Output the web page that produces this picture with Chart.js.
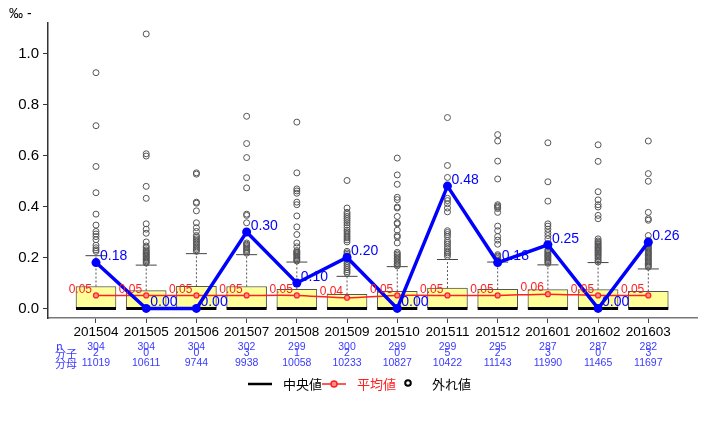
<!DOCTYPE html>
<html>
<head>
<meta charset="utf-8">
<script src="https://cdn.jsdelivr.net/npm/chart.js@4"></script>
<style>
  html, body { margin: 0; padding: 0; background: #fff; }
  #wrap { width: 720px; height: 426px; }
</style>
</head>
<body>
<div id="wrap"><canvas id="boxChart" width="720" height="426"></canvas></div>
<script>
// months on the x axis
const months = ['201504', '201505', '201506', '201507', '201508', '201509',
                '201510', '201511', '201512', '201601', '201602', '201603'];

// box plot stats (per mille)
const q1Vals     = [0, 0, 0, 0, 0, 0, 0, 0, 0, 0, 0, 0];
const medianVals = [0, 0, 0, 0, 0, 0, 0, 0, 0, 0, 0, 0];
const q3Vals     = [0.086, 0.070, 0.087, 0.086, 0.075, 0.055, 0.067, 0.080, 0.075, 0.074, 0.074, 0.067];
const whiskerHi  = [0.207, 0.170, 0.215, 0.211, 0.182, 0.126, 0.164, 0.192, 0.182, 0.171, 0.180, 0.155];
const meanVals   = [0.051, 0.051, 0.051, 0.051, 0.051, 0.042, 0.051, 0.051, 0.051, 0.056, 0.051, 0.051];

// monthly rate = numerator / denominator (per mille)
const rateVals = [0.18, 0.00, 0.00, 0.30, 0.10, 0.20, 0.00, 0.48, 0.18, 0.25, 0.00, 0.26];

// table under the axis
const nVals   = [304, 304, 304, 302, 299, 300, 299, 299, 295, 287, 287, 282];
const numVals = [2, 0, 0, 3, 1, 2, 0, 5, 2, 3, 0, 3];
const denVals = [11019, 10611, 9744, 9938, 10058, 10233, 10827, 10422, 11143, 11990, 11465, 11697];

const yTicks = [0, 0.2, 0.4, 0.6, 0.8, 1.0];

// outliers per month
const outliers = [
  [0.925, 0.717, 0.557, 0.454, 0.370, 0.327, 0.302, 0.292, 0.282, 0.270, 0.248, 0.238, 0.230, 0.224],
  [1.077, 0.607, 0.598, 0.479, 0.432, 0.332, 0.311, 0.295, 0.261, 0.245, 0.238, 0.230, 0.225, 0.220, 0.215, 0.211, 0.206, 0.202, 0.197, 0.192, 0.187, 0.182, 0.178],
  [0.532, 0.527, 0.417, 0.413, 0.383, 0.336, 0.317, 0.302, 0.286, 0.280, 0.273, 0.267, 0.261, 0.255, 0.249, 0.242, 0.236, 0.230, 0.224],
  [0.754, 0.647, 0.592, 0.513, 0.473, 0.370, 0.365, 0.336, 0.257, 0.252, 0.248, 0.243, 0.238, 0.232, 0.227, 0.222, 0.217],
  [0.731, 0.532, 0.469, 0.461, 0.452, 0.417, 0.407, 0.363, 0.320, 0.290, 0.257, 0.242, 0.227, 0.222, 0.218, 0.214, 0.210, 0.205, 0.200, 0.195, 0.190, 0.186],
  [0.502, 0.394, 0.377, 0.369, 0.361, 0.353, 0.345, 0.336, 0.327, 0.317, 0.307, 0.300, 0.292, 0.284, 0.277, 0.269, 0.261, 0.224, 0.218, 0.212, 0.206, 0.200, 0.192, 0.184, 0.176, 0.168, 0.160, 0.152, 0.144, 0.138],
  [0.590, 0.524, 0.487, 0.436, 0.427, 0.398, 0.394, 0.361, 0.336, 0.332, 0.307, 0.286, 0.280, 0.257, 0.220, 0.214, 0.208, 0.202, 0.196, 0.190, 0.184, 0.178, 0.172, 0.167],
  [0.749, 0.561, 0.514, 0.432, 0.423, 0.411, 0.394, 0.379, 0.305, 0.298, 0.290, 0.282, 0.267, 0.259, 0.252, 0.242, 0.234, 0.224, 0.218, 0.211, 0.204],
  [0.682, 0.657, 0.578, 0.508, 0.407, 0.402, 0.397, 0.392, 0.377, 0.323, 0.305, 0.282, 0.268, 0.252, 0.211, 0.206, 0.202, 0.196, 0.190],
  [0.650, 0.497, 0.421, 0.332, 0.323, 0.311, 0.298, 0.286, 0.273, 0.230, 0.225, 0.220, 0.215, 0.210, 0.206, 0.202, 0.197, 0.192, 0.187, 0.182, 0.177],
  [0.642, 0.577, 0.458, 0.426, 0.407, 0.398, 0.365, 0.352, 0.273, 0.265, 0.260, 0.255, 0.250, 0.245, 0.240, 0.236, 0.231, 0.227, 0.222, 0.217, 0.212, 0.207, 0.201, 0.195, 0.188, 0.182],
  [0.657, 0.529, 0.499, 0.377, 0.352, 0.346, 0.286, 0.267, 0.262, 0.257, 0.252, 0.247, 0.242, 0.237, 0.232, 0.227, 0.222, 0.217, 0.212, 0.207, 0.202, 0.197, 0.192, 0.187, 0.182, 0.177, 0.172, 0.167, 0.162]
];

const BLUE = '#0000ff';
const RED = '#ff2020';
const TXT_BLUE = '#3a3aff';
const CJK = '"Noto Sans CJK JP", "Liberation Sans", sans-serif';
const SANS = '"Liberation Sans", sans-serif';

const xs = months.map((m, i) => i + 1);

const boxData = xs.map((x, i) => ({ x: x, y: [q1Vals[i], q3Vals[i]] }));
const medData = xs.map((x, i) => ({ x: x, y: medianVals[i] }));
const capData = xs.map((x, i) => ({ x: x, y: whiskerHi[i] }));
const whiskData = [];
xs.forEach((x, i) => {
    whiskData.push({ x: x, y: q3Vals[i] }, { x: x, y: whiskerHi[i] }, { x: x, y: null });
});
const outData = [];
outliers.forEach((list, i) => list.forEach(v => outData.push({ x: i + 1, y: v })));
const meanData = xs.map((x, i) => ({ x: x, y: meanVals[i] }));
const rateData = xs.map((x, i) => ({ x: x, y: rateVals[i] }));

// value labels + table + legend
const extrasPlugin = {
    id: 'extras',
    afterDatasetsDraw(chart) {
        const ctx = chart.ctx;
        ctx.save();
        ctx.textBaseline = 'middle';

        // mean labels (red, left of point)
        const meanMeta = chart.getDatasetMeta(1);
        ctx.fillStyle = RED;
        ctx.font = '12px ' + SANS;
        ctx.textAlign = 'right';
        meanMeta.data.forEach((pt, i) => {
            ctx.fillText(meanVals[i].toFixed(2), pt.x - 4, pt.y - 6);
        });

        // rate labels (blue, right of point)
        const rateMeta = chart.getDatasetMeta(0);
        ctx.fillStyle = BLUE;
        ctx.font = '14px ' + SANS;
        ctx.textAlign = 'left';
        rateMeta.data.forEach((pt, i) => {
            ctx.fillText(rateVals[i].toFixed(2), pt.x + 4, pt.y - 6);
        });
        ctx.restore();
    },
    afterDraw(chart) {
        const ctx = chart.ctx;
        const xScale = chart.scales.x;
        ctx.save();
        ctx.textBaseline = 'middle';

        // unit label
        ctx.fillStyle = '#000';
        ctx.font = '14px ' + SANS;
        ctx.textAlign = 'left';
        ctx.fillText('‰ -', 9, 14);

        // table rows
        ctx.fillStyle = TXT_BLUE;
        ctx.font = '11px ' + CJK;
        ctx.textAlign = 'left';
        ctx.fillText('n', 56, 346);
        ctx.fillText('分子', 55, 354);
        ctx.fillText('分母', 55, 364);

        ctx.font = '10.5px ' + SANS;
        ctx.textAlign = 'center';
        xs.forEach((x, i) => {
            const px = xScale.getPixelForValue(x);
            ctx.fillText(String(nVals[i]), px, 347);
            ctx.fillText(String(numVals[i]), px, 353.5);
            ctx.fillText(String(denVals[i]), px, 363.5);
        });

        // legend
        const ly = 384;
        ctx.lineWidth = 2.5;
        ctx.strokeStyle = '#000';
        ctx.beginPath(); ctx.moveTo(248, ly); ctx.lineTo(272, ly); ctx.stroke();
        ctx.font = '13px ' + CJK;
        ctx.textAlign = 'left';
        ctx.fillStyle = '#000';
        ctx.fillText('中央値', 283, ly);

        ctx.strokeStyle = RED;
        ctx.lineWidth = 1.5;
        ctx.beginPath(); ctx.moveTo(322, ly); ctx.lineTo(346, ly); ctx.stroke();
        ctx.beginPath(); ctx.arc(334, ly, 3, 0, Math.PI * 2);
        ctx.fillStyle = '#ff9090'; ctx.fill(); ctx.stroke();
        ctx.fillStyle = RED;
        ctx.fillText('平均値', 357, ly);

        ctx.strokeStyle = '#000';
        ctx.lineWidth = 2;
        ctx.beginPath(); ctx.arc(408, ly - 1, 2.8, 0, Math.PI * 2); ctx.stroke();
        ctx.fillStyle = '#000';
        ctx.fillText('外れ値', 432, ly);
        ctx.restore();
    }
};

new Chart(document.getElementById('boxChart'), {
    type: 'bar',
    data: {
        datasets: [
            {
                type: 'line',
                label: 'rate',
                data: rateData,
                borderColor: BLUE,
                backgroundColor: BLUE,
                borderWidth: 3.5,
                pointRadius: 4.5,
                pointBorderWidth: 0,
                tension: 0,
                order: 0
            },
            {
                type: 'line',
                label: '平均値',
                data: meanData,
                borderColor: RED,
                borderWidth: 1.5,
                pointRadius: 2.5,
                pointBorderColor: RED,
                pointBackgroundColor: '#ff9090',
                pointBorderWidth: 1.2,
                tension: 0.25,
                order: 1
            },
            {
                type: 'scatter',
                label: '外れ値',
                data: outData,
                pointStyle: 'circle',
                pointRadius: 3,
                borderColor: '#555',
                backgroundColor: 'rgba(0,0,0,0)',
                borderWidth: 1,
                order: 2
            },
            {
                type: 'scatter',
                label: '中央値',
                data: medData,
                pointStyle: 'line',
                pointRadius: 20,
                borderColor: '#000',
                borderWidth: 3,
                order: 3
            },
            {
                type: 'scatter',
                label: 'cap',
                data: capData,
                pointStyle: 'line',
                pointRadius: 10.5,
                borderColor: '#444',
                borderWidth: 1,
                order: 4
            },
            {
                type: 'line',
                label: 'whisker',
                data: whiskData,
                borderColor: '#555',
                borderWidth: 1,
                borderDash: [2, 2],
                pointRadius: 0,
                spanGaps: false,
                order: 5
            },
            {
                type: 'bar',
                label: 'box',
                data: boxData,
                backgroundColor: '#ffff99',
                borderColor: '#555',
                borderWidth: 1,
                borderSkipped: false,
                barThickness: 40,
                order: 6
            }
        ]
    },
    options: {
        responsive: false,
        animation: false,
        events: [],
        layout: { padding: { top: 9, right: 23, left: 0, bottom: 0 } },
        plugins: {
            legend: { display: false },
            tooltip: { enabled: false }
        },
        scales: {
            x: {
                type: 'linear',
                offset: false,
                min: 0.044,
                max: 12.97,
                afterBuildTicks: (scale) => { scale.ticks = xs.map(v => ({ value: v })); },
                afterFit: (scale) => { scale.height = 108; },
                ticks: {
                    callback: (v) => months[v - 1],
                    color: '#000',
                    font: { family: SANS, size: 13.5 },
                    padding: 1,
                    maxRotation: 0,
                    autoSkip: false
                },
                grid: { drawOnChartArea: false, offset: false, tickLength: 5, color: '#444' },
                border: { color: '#777', width: 1.5 }
            },
            y: {
                type: 'linear',
                min: -0.0375,
                max: 1.12,
                afterBuildTicks: (scale) => { scale.ticks = yTicks.map(v => ({ value: v })); },
                afterFit: (scale) => { scale.width = 48; },
                ticks: {
                    callback: (v) => v.toFixed(1),
                    color: '#000',
                    font: { family: SANS, size: 15 },
                    padding: 4
                },
                grid: { drawOnChartArea: false, tickLength: 5, color: '#333' },
                border: { color: '#333', width: 1.5 }
            }
        }
    },
    plugins: [extrasPlugin]
});
</script>
</body>
</html>
